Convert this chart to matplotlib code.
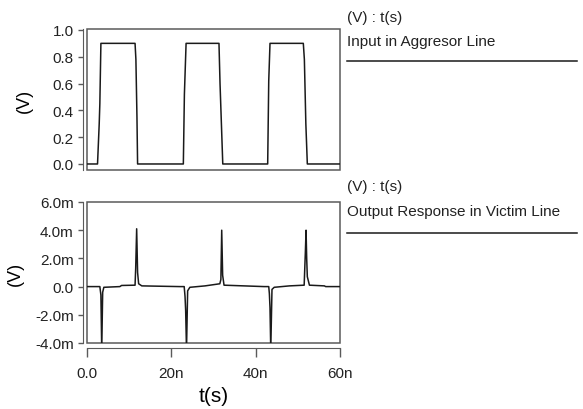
import matplotlib
matplotlib.use("Agg")
import matplotlib.pyplot as plt
from matplotlib.lines import Line2D
from matplotlib.patches import Rectangle

plt.rcParams['font.family'] = ['Liberation Sans', 'DejaVu Sans']

# input in aggressor line: time (ns), voltage (V)
t_in = [0, 2.5, 2.9, 3.05, 3.3, 11.4, 11.6, 11.85, 12.0,
        22.85, 23.1, 23.5, 31.3, 31.55, 32.2,
        42.85, 43.1, 43.4, 51.3, 51.55, 51.9, 52.25, 60]
v_in = [0, 0, 0.3, 0.45, 0.9, 0.9, 0.78, 0.35, 0,
        0, 0.52, 0.9, 0.9, 0.6, 0,
        0, 0.62, 0.9, 0.9, 0.78, 0.3, 0, 0]

# output response in victim line: time (ns), voltage (mV)
t_out = [0, 3.05, 3.3, 3.5, 3.72, 4.0, 7.8, 8.2, 11.4, 11.55, 11.78, 12.0, 12.25, 13.0,
         22.0, 23.05, 23.25, 23.4, 23.6, 23.87, 24.4, 28.0, 31.5, 31.75, 31.95, 32.17, 32.5,
         42.0, 43.1, 43.25, 43.4, 43.58, 43.87, 44.4, 48.0, 51.5, 51.78, 51.95, 52.1, 52.25,
         52.75, 56.3, 56.6, 60]
v_out = [0, 0, -0.6, -4.5, -0.4, -0.05, 0.0, 0.08, 0.1, 1.3, 4.1, 1.0, 0.2, 0.05,
         0.0, 0.0, -0.7, -1.7, -4.5, -0.3, -0.05, 0.05, 0.2, 0.5, 4.0, 0.8, 0.1,
         0.0, 0.0, -0.5, -1.5, -4.5, -0.2, -0.05, 0.05, 0.1, 2.4, 4.0, 2.0, 0.7,
         0.1, 0.05, 0.0, 0.0]

yt_in = [0.0, 0.2, 0.4, 0.6, 0.8, 1.0]
yt_out = [-4, -2, 0, 2, 4, 6]
yl_out = ['-4.0m', '-2.0m', '0.0', '2.0m', '4.0m', '6.0m']
xt = [0, 20, 40, 60]
xl = ['0.0', '20n', '40n', '60n']

line_c = '#1a1a1a'
ax_c = '#5a5a5a'
txt_c = '#222222'

fig = plt.figure(figsize=(5.83, 4.10), dpi=100)
ax1 = fig.add_axes([0.1492, 0.5829, 0.434, 0.3439])
ax2 = fig.add_axes([0.1492, 0.1610, 0.434, 0.3439])

ax1.plot(t_in, v_in, color=line_c, lw=1.1)
ax2.plot(t_out, v_out, color=line_c, lw=1.1)

ax1.set_xlim(0, 60)
ax1.set_ylim(-0.045, 1.007)
ax2.set_xlim(0, 60)
ax2.set_ylim(-4, 6)

for ax in (ax1, ax2):
    for s in ('top', 'right', 'bottom'):
        ax.spines[s].set_visible(False)
    ax.spines['left'].set_position(('outward', 3))
    ax.spines['left'].set_color(ax_c)
    ax.add_patch(Rectangle((0, 0), 1, 1, transform=ax.transAxes, fill=False,
                           edgecolor=ax_c, lw=1.1, clip_on=False))
    ax.tick_params(axis='y', direction='out', length=3.6, width=1, color=ax_c,
                   labelsize=11, pad=3, labelcolor=txt_c)

ax1.set_xticks([])
ax1.set_yticks(yt_in)
ax1.set_yticklabels(['%.1f' % v for v in yt_in])

ax2.spines['bottom'].set_visible(True)
ax2.spines['bottom'].set_position(('outward', 3.6))
ax2.spines['bottom'].set_color(ax_c)
ax2.set_yticks(yt_out)
ax2.set_yticklabels(yl_out)
ax2.set_xticks(xt)
ax2.set_xticklabels(xl)
ax2.tick_params(axis='x', direction='out', length=6.5, width=1, color=ax_c,
                labelsize=11, pad=6.5, labelcolor=txt_c)

ax1.set_ylabel('(V)', fontsize=13, labelpad=14)
ax2.set_ylabel('(V)', fontsize=13, labelpad=8)
ax2.set_xlabel('t(s)', fontsize=15, labelpad=4)

# legend blocks at the right
lx0, lx1 = 347 / 583, 577 / 583
fig.text(lx0, 1 - 18 / 410, '(V) : t(s)', fontsize=11, va='center', ha='left', color=txt_c)
fig.text(lx0, 1 - 42 / 410, 'Input in Aggresor Line', fontsize=11, va='center', ha='left', color=txt_c)
fig.add_artist(Line2D([lx0, lx1], [1 - 62 / 410, 1 - 62 / 410], color=line_c, lw=1.1))
fig.text(lx0, 1 - 187 / 410, '(V) : t(s)', fontsize=11, va='center', ha='left', color=txt_c)
fig.text(lx0, 1 - 212 / 410, 'Output Response in Victim Line', fontsize=11, va='center', ha='left', color=txt_c)
fig.add_artist(Line2D([lx0, lx1], [1 - 234 / 410, 1 - 234 / 410], color=line_c, lw=1.1))

fig.savefig('out.png', dpi=100)
